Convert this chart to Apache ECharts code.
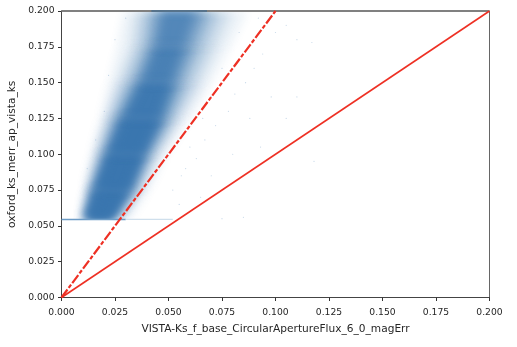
<!DOCTYPE html>
<html><head><meta charset="utf-8">
<style>html,body{margin:0;padding:0;background:#fff}#c{width:517px;height:347px}</style>
<script src="https://cdn.jsdelivr.net/npm/echarts@6/dist/echarts.min.js"></script>
</head><body><div id="c"></div>
<script>
// Density contours of the point cloud: x-extent at each y level
const yLevels = [0.0545, 0.075, 0.100, 0.125, 0.150, 0.175, 0.200];
const band1L = [0.0084, 0.0100, 0.0135, 0.0180, 0.0220, 0.0260, 0.0290];
const band1R = [0.0320, 0.0410, 0.0490, 0.0600, 0.0700, 0.0790, 0.0870];
const band2L = [0.0088, 0.0112, 0.0155, 0.0205, 0.0260, 0.0320, 0.0340];
const band2R = [0.0280, 0.0375, 0.0455, 0.0555, 0.0650, 0.0730, 0.0800];
const band3L = [0.0095, 0.0125, 0.0175, 0.0230, 0.0295, 0.0360, 0.0380];
const band3R = [0.0260, 0.0355, 0.0430, 0.0525, 0.0605, 0.0680, 0.0745];
const band4L = [0.0102, 0.0140, 0.0195, 0.0255, 0.0330, 0.0395, 0.0415];
const band4R = [0.0245, 0.0335, 0.0405, 0.0495, 0.0565, 0.0635, 0.0700];
const band5L = [0.0112, 0.0155, 0.0215, 0.0280, 0.0360, 0.0425, 0.0450];
const band5R = [0.0232, 0.0315, 0.0385, 0.0470, 0.0530, 0.0595, 0.0660];
const band6L = [0.0124, 0.0170, 0.0232, 0.0300, 0.0385, 0.0450, 0.0480];
const band6R = [0.0220, 0.0300, 0.0365, 0.0445, 0.0500, 0.0560, 0.0620];
// Estimated opacity of each contour between consecutive y levels
const band1A = [0.10, 0.10, 0.10, 0.10, 0.09, 0.09];
const band2A = [0.20, 0.20, 0.20, 0.18, 0.16, 0.15];
const band3A = [0.32, 0.32, 0.30, 0.26, 0.22, 0.20];
const band4A = [0.55, 0.55, 0.50, 0.42, 0.35, 0.30];
const band5A = [0.85, 0.85, 0.80, 0.65, 0.50, 0.40];
const band6A = [1.00, 1.00, 0.95, 0.80, 0.60, 0.50];
// Pile-ups along the clipped edges
const floorLine = [[0, 0.0545], [0.030, 0.0545]];
const floorFade = [[0.030, 0.0545], [0.052, 0.0545]];
const ceilLine  = [[0.042, 0.2], [0.068, 0.2]];
const topEdge   = [[0, 0.2], [0.2, 0.2]];
// Reference lines
const lineOneToOne = [[0, 0], [0.2, 0.2]];
const lineOneToTwo = [[0, 0], [0.1, 0.2]];
// Scattered outliers
const outliers = [[0.052,0.075],[0.058,0.09],[0.063,0.097],[0.067,0.11],[0.072,0.12],[0.078,0.13],[0.081,0.142],[0.086,0.15],[0.09,0.16],[0.094,0.17],[0.1,0.185],[0.105,0.19],[0.11,0.18],[0.117,0.178],[0.098,0.14],[0.088,0.125],[0.08,0.1],[0.07,0.085],[0.065,0.07],[0.055,0.065],[0.06,0.06],[0.075,0.055],[0.085,0.056],[0.093,0.105],[0.11,0.14],[0.118,0.095],[0.083,0.185],[0.092,0.195],[0.075,0.16],[0.07,0.14],[0.066,0.125],[0.06,0.105],[0.056,0.085],[0.02,0.13],[0.016,0.11],[0.012,0.09],[0.022,0.155],[0.025,0.18],[0.03,0.195],[0.105,0.125]];

const bands = [
  {l: band1L, r: band1R, a: band1A},
  {l: band2L, r: band2R, a: band2A},
  {l: band3L, r: band3R, a: band3A},
  {l: band4L, r: band4R, a: band4A},
  {l: band5L, r: band5R, a: band5A},
  {l: band6L, r: band6R, a: band6A}
];
const OFF = 1500; // shapes are drawn off to the side so only their soft shadow shows
const axisCommon = {
  type: 'value', min: 0, max: 0.2, interval: 0.025,
  axisLine: {show: true, onZero: false, lineStyle: {color: '#444', width: 1}},
  axisTick: {show: true, length: 3.5, lineStyle: {color: '#333', width: 1}},
  axisLabel: {color: '#262626', fontSize: 9.2, fontFamily: 'DejaVu Sans',
              formatter: v => v.toFixed(3), hideOverlap: false, showMinLabel: true, showMaxLabel: true},
  splitLine: {show: false},
  nameLocation: 'middle',
  nameTextStyle: {color: '#262626', fontSize: 10.6, fontFamily: 'DejaVu Sans'}
};
const chart = echarts.init(document.getElementById('c'), null, {renderer: 'canvas'});
chart.setOption({
  animation: false,
  backgroundColor: '#fff',
  grid: {left: 61.5, right: 27.5, top: 11, bottom: 49.5, show: true, borderColor: '#666', borderWidth: 1,
         backgroundColor: 'transparent', outerBoundsMode: 'none', containLabel: false},
  xAxis: Object.assign({}, axisCommon, {name: 'VISTA-Ks_f_base_CircularApertureFlux_6_0_magErr', nameGap: 26,
    axisLabel: Object.assign({}, axisCommon.axisLabel, {margin: 11})}),
  yAxis: Object.assign({}, axisCommon, {name: 'oxford_ks_merr_ap_vista_ks', nameGap: 42,
    axisLabel: Object.assign({}, axisCommon.axisLabel, {margin: 7})}),
  series: [
    {type: 'custom', coordinateSystem: 'cartesian2d', silent: true, clip: false,
     data: bands.map((b, i) => [i]),
     renderItem: (params, api) => {
       const b = bands[params.dataIndex];
       const tl = api.coord([0, 0.2]), br = api.coord([0.2, yLevels[0]]);
       const children = [];
       for (let k = 0; k < yLevels.length - 1; k++) {
         const pts = [
           api.coord([b.l[k], yLevels[k]]), api.coord([b.r[k], yLevels[k]]),
           api.coord([b.r[k + 1], yLevels[k + 1]]), api.coord([b.l[k + 1], yLevels[k + 1]])
         ].map(p => [p[0] - OFF, p[1]]);
         children.push({type: 'polygon', shape: {points: pts},
           style: {fill: '#000', shadowBlur: 8, shadowOffsetX: OFF,
                   shadowColor: `rgba(58,118,175,${b.a[k]})`}});
       }
       return {type: 'group', children,
         clipPath: {type: 'rect', shape: {x: tl[0], y: tl[1], width: br[0] - tl[0], height: br[1] - tl[1]}}};
     }},
    {type: 'line', data: floorLine, symbol: 'none', silent: true, lineStyle: {color: '#6d9cc6', width: 1.6}},
    {type: 'line', data: floorFade, symbol: 'none', silent: true, lineStyle: {color: '#cfdfec', width: 1.3}},
    {type: 'scatter', data: outliers, symbolSize: 1.2, silent: true, itemStyle: {color: 'rgba(58,118,175,0.35)'}},
    {type: 'line', data: topEdge, symbol: 'none', silent: true, clip: false, lineStyle: {color: '#808080', width: 2}},
    {type: 'line', data: ceilLine, symbol: 'none', silent: true, clip: false, lineStyle: {color: '#4a6f8f', width: 1.5}},
    {type: 'line', data: lineOneToOne, symbol: 'none', silent: true, lineStyle: {color: '#ee3024', width: 1.6}},
    {type: 'line', data: lineOneToTwo, symbol: 'none', silent: true,
     lineStyle: {color: '#ee3024', width: 2.2, type: [10, 2, 4, 2]}}
  ]
});
</script></body></html>
